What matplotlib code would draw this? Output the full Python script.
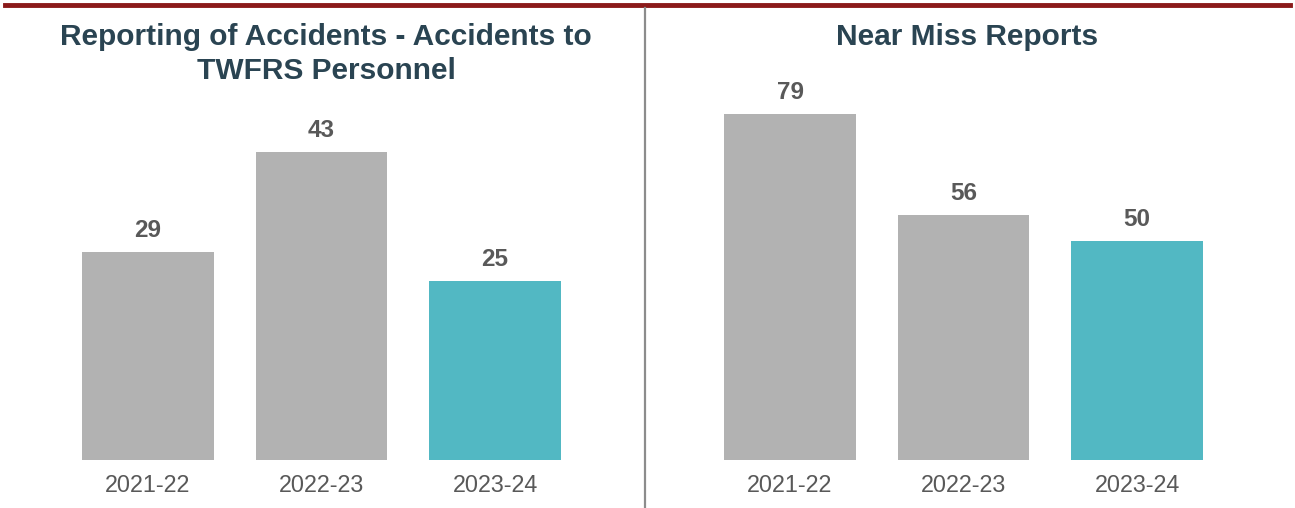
#Recreating the two bar panels: accidents and near miss reports
import matplotlib.pyplot as plt
import numpy as np

plt.rcParams['font.family'] = ['Liberation Sans', 'DejaVu Sans']

#Data
years = ['2021-22', '2022-23', '2023-24']
accidents = [29, 43, 25]
near_miss = [79, 56, 50]
titles = ['Reporting of Accidents - Accidents to', 'TWFRS Personnel', 'Near Miss Reports']

grey = '#b2b2b2'
teal = '#52b8c3'
bar_colors = [grey, grey, teal]
label_col = '#595959'
title_col = '#2a4452'

W, H = 1295, 508
fig = plt.figure(figsize=(W/100, H/100), dpi=100)

def px_axes(left, top, width, height):
    # pixel box (from top-left) -> figure fraction
    return fig.add_axes([left/W, 1-(top+height)/H, width/W, height/H])

def panel(ax, values, scale):
    x = np.arange(len(years))
    ax.bar(x, values, width=0.76, color=bar_colors)
    for xi, v in zip(x, values):
        # label sits ~10px above the bar top
        ax.text(xi, v + 10/scale, str(v), ha='center', va='bottom', fontsize=17.5,
                fontweight='bold', color=label_col)
    ax.set_xlim(-0.5, 2.5)
    ax.set_ylim(0, 380/scale)
    ax.set_xticks(x)
    ax.set_xticklabels(years, fontsize=16.8, color=label_col)
    ax.tick_params(axis='x', length=0, pad=10)
    ax.set_yticks([])
    for s in ax.spines.values():
        s.set_visible(False)

ax1 = px_axes(61.25, 80, 520.5, 380)
panel(ax1, accidents, 7.16)

ax2 = px_axes(703.25, 80, 520.5, 380)
panel(ax2, near_miss, 4.38)

#Titles
fig.text(326/W, 1-37/H, titles[0], ha='center', va='center', fontsize=21.5,
         fontweight='bold', color=title_col)
fig.text(326/W, 1-71/H, titles[1], ha='center', va='center', fontsize=21.5,
         fontweight='bold', color=title_col)
fig.text(967/W, 1-37/H, titles[2], ha='center', va='center', fontsize=21.5,
         fontweight='bold', color=title_col)

#Top red rule and divider
fig.add_artist(plt.Line2D([5/W, 1290/W], [1-5/H, 1-5/H], color='#8b1a1a', linewidth=3.5))
fig.add_artist(plt.Line2D([645/W, 645/W], [1-8/H, 0], color='#8c8c8c', linewidth=1.6))

fig.savefig('out.png', dpi=100)
